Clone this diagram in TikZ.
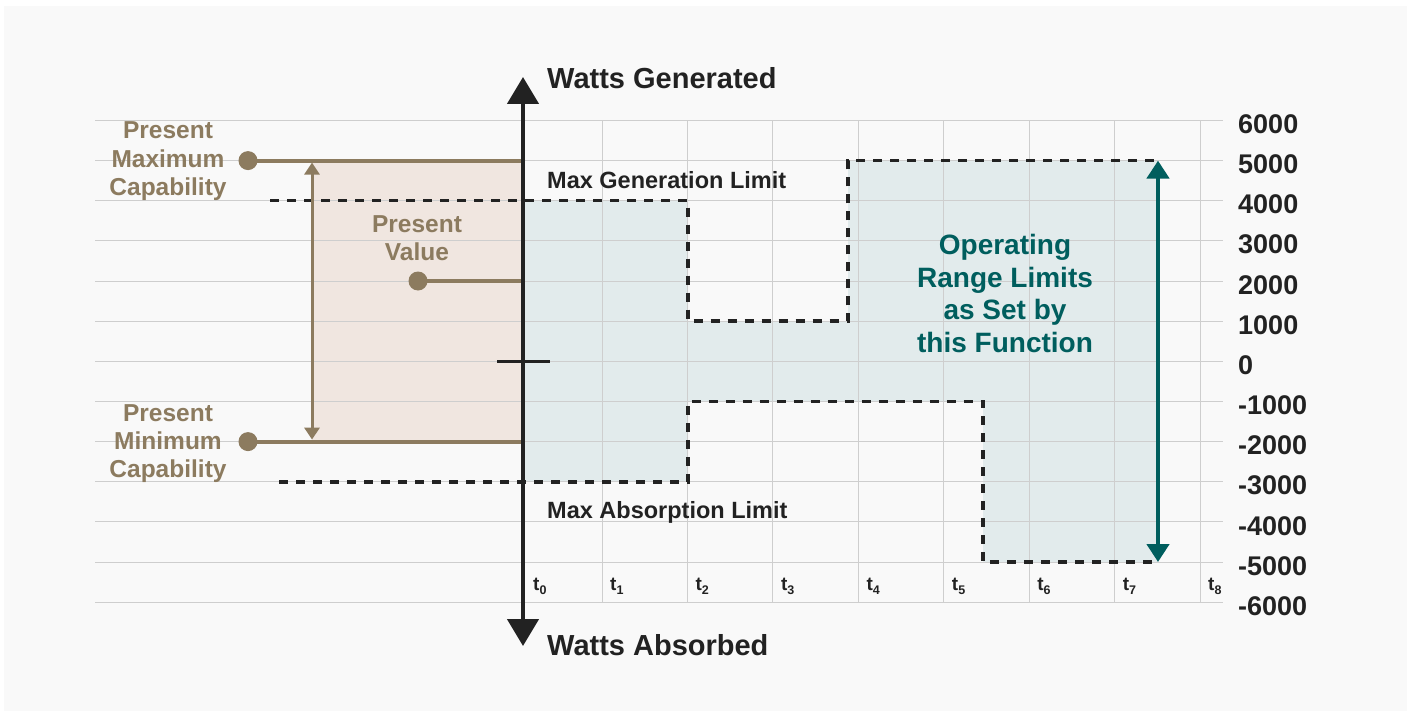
\documentclass[tikz,border=0pt]{standalone}
\usepackage{fontspec}
\setmainfont{Liberation Sans}
\usetikzlibrary{arrows.meta}
\definecolor{bgc}{RGB}{249,249,249}
\definecolor{gridc}{RGB}{206,206,206}
\definecolor{darkc}{RGB}{34,34,34}
\definecolor{brownc}{RGB}{140,123,95}
\definecolor{brownfill}{RGB}{240,230,224}
\definecolor{bluefill}{RGB}{226,235,236}
\definecolor{tealc}{RGB}{0,94,94}
\newcommand{\tsub}[1]{\raisebox{-4bp}{\fontsize{12.5bp}{14bp}\selectfont #1}}
\begin{document}
\begin{tikzpicture}[x=1bp,y=-1bp,
  gridline/.style={draw=gridc,line width=1bp},
  limitline/.style={draw=darkc,line width=3.2bp,dash pattern=on 9bp off 8bp},
  axisline/.style={draw=darkc,line width=4.5bp,{Triangle[width=31bp,length=27bp]}-{Triangle[width=31bp,length=27bp]}},
  brownline/.style={draw=brownc,line width=4bp},
  brownarrow/.style={draw=brownc,line width=3bp,{Triangle[width=15bp,length=12bp]}-{Triangle[width=15bp,length=12bp]}},
  tealarrow/.style={draw=tealc,line width=4.8bp,{Triangle[width=22bp,length=18bp]}-{Triangle[width=22bp,length=18bp]}},
  dot/.style={circle,fill=brownc,inner sep=0pt,minimum size=19bp},
  titletext/.style={font=\bfseries\fontsize{29bp}{34bp}\selectfont,text=darkc,inner sep=0pt},
  limittext/.style={font=\bfseries\fontsize{23.5bp}{28bp}\selectfont,text=darkc,inner sep=0pt},
  browntext/.style={font=\bfseries\fontsize{24.5bp}{28bp}\selectfont,text=brownc,inner sep=0pt,align=center},
  tealtext/.style={font=\bfseries\fontsize{28bp}{32.5bp}\selectfont,text=tealc,inner sep=0pt,align=center},
  ytext/.style={font=\bfseries\fontsize{27bp}{30bp}\selectfont,text=darkc,inner sep=0pt,anchor=base west},
  ttext/.style={font=\bfseries\fontsize{19bp}{20bp}\selectfont,text=darkc,inner sep=0pt,anchor=base west}
]
\useasboundingbox (0,0) rectangle (1411,715);
\fill[white] (0,0) rectangle (1411,715);
\fill[bgc] (4,6) rectangle (1407,711);

% fills
\fill[brownfill] (312,160.6) rectangle (523,441.6);
\fill[bluefill] (523,200.7) -- (688,200.7) -- (688,321) -- (848,321) -- (848,160.6) -- (1158,160.6)
  -- (1158,562) -- (983,562) -- (983,401.6) -- (688,401.6) -- (688,481.9) -- (523,481.9) -- cycle;

% grid
\foreach \k in {0,...,12} \draw[gridline] (95,{round(120+40.15*\k)+0.5}) -- (1223,{round(120+40.15*\k)+0.5});
\foreach \k in {0,...,7} \draw[gridline] ({round(601.5+85.43*\k)+0.5},120.5) -- ({round(601.5+85.43*\k)+0.5},602.5);

% y labels
\foreach \v [count=\k from 0] in {6000,5000,4000,3000,2000,1000,0,-1000,-2000,-3000,-4000,-5000,-6000}
  \node[ytext] (ylab\k) at (1238,{133.5+40.15*\k}) {\v};

% t labels
\node[ttext] (tlab0) at (533,590) {t\tsub{0}};
\foreach \k in {1,...,8}
  \node[ttext] (tlab\k) at ({610+85.43*(\k-1)},590) {t\tsub{\k}};

% limit lines
\coordinate (g0) at (270,200.7);
\coordinate (g1) at (688,200.7);
\coordinate (g2) at (688,321);
\coordinate (g3) at (848,321);
\coordinate (g4) at (848,160.6);
\coordinate (g5) at (1158,160.6);
\draw[limitline] (g0) -- (g1) -- (g2) -- (g3) -- (g4) -- (g5);
\coordinate (a0) at (279,481.9);
\coordinate (a1) at (688,481.9);
\coordinate (a2) at (688,401.6);
\coordinate (a3) at (983,401.6);
\coordinate (a4) at (983,562);
\coordinate (a5) at (1158,562);
\draw[limitline] (a0) -- (a1) -- (a2) -- (a3) -- (a4) -- (a5);

% brown capability lines
\node[dot] (maxdot) at (248,160.6) {};
\node[dot] (valdot) at (418,281) {};
\node[dot] (mindot) at (248,441.6) {};
\coordinate (maxend) at (523,160.6);
\coordinate (valend) at (523,281);
\coordinate (minend) at (523,441.6);
\draw[brownline] (maxdot.center) -- (maxend);
\draw[brownline] (valdot.center) -- (valend);
\draw[brownline] (mindot.center) -- (minend);
\coordinate (bat) at (312,162.6);
\coordinate (bab) at (312,439.6);
\draw[brownarrow] (bat) -- (bab);

% axis
\coordinate (axtop) at (523,77);
\coordinate (axbot) at (523,646);
\draw[axisline] (axtop) -- (axbot);
\coordinate (tickl) at (497,361);
\coordinate (tickr) at (550,361);
\draw[draw=darkc,line width=3bp] (tickl) -- (tickr);

% teal arrow
\coordinate (tat) at (1158,160.6);
\coordinate (tab) at (1158,562);
\draw[tealarrow] (tat) -- (tab);

% texts
\node[titletext,anchor=base west] (gen) at (547,89) {Watts Generated};
\node[titletext,anchor=base west] (abs) at (547,655) {Watts Absorbed};
\node[limittext,anchor=base west] (mgl) at (547,188) {Max Generation Limit};
\node[limittext,anchor=base west] (mal) at (547,518) {Max Absorption Limit};
\node[browntext,anchor=base] (pmax) at (168,195) {Present\\Maximum\\Capability};
\node[browntext,anchor=base] (pmin) at (168,477) {Present\\Minimum\\Capability};
\node[browntext,anchor=base] (pval) at (417,260) {Present\\Value};
\node[tealtext,anchor=base] (orl) at (1005,352) {Operating\\Range Limits\\as Set by\\this Function};
\end{tikzpicture}
\end{document}
